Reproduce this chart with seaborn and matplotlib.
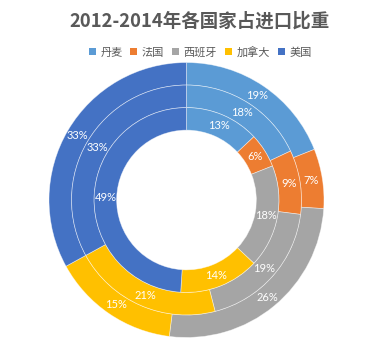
import matplotlib
matplotlib.use("Agg")
import matplotlib.pyplot as plt
import seaborn as sns

countries = ["丹麦", "法国", "西班牙", "加拿大", "美国"]
share_2012 = [13, 6, 18, 14, 49]   # inner ring
share_2013 = [18, 9, 19, 21, 33]   # middle ring
share_2014 = [19, 7, 26, 15, 33]   # outer ring
title = "2012-2014年各国家占进口比重"

sns.set_theme(style="white")
plt.rcParams['font.family'] = ['Noto Sans CJK SC', 'DejaVu Sans']

palette = sns.color_palette(["#5B9BD5", "#ED7D31", "#A5A5A5", "#FFC000", "#4472C4"])

W, H = 382, 346
fig = plt.figure(figsize=(W / 100, H / 100), dpi=100)
fig.patch.set_facecolor("white")

cx, cy, R = 186.5, 200, 137.5
ax = fig.add_axes([(cx - R) / W, (H - cy - R) / H, 2 * R / W, 2 * R / H])

width = 0.164
rings = [(share_2014, 1.0), (share_2013, 1.0 - width), (share_2012, 1.0 - 2 * width)]
legend_wedges = None
for vals, r in rings:
    wedges, texts, autotexts = ax.pie(
        vals, radius=r, colors=palette, startangle=90, counterclock=False,
        wedgeprops=dict(width=width, edgecolor=(1, 1, 1, 0.55), linewidth=0.5),
        autopct=lambda p: f"{p:.0f}%", pctdistance=(r - width / 2) / r,
        textprops=dict(color="white", fontsize=8, family=['Lato', 'DejaVu Sans']),
    )
    if legend_wedges is None:
        legend_wedges = wedges

ax.set_xlim(-1, 1)
ax.set_ylim(-1, 1)
ax.set_aspect("equal")
ax.axis("off")

fig.text(200 / W, 1 - 21 / H, title, ha="center", va="center",
         fontsize=13.3, fontweight="bold", color="#595959")

leg = fig.legend(legend_wedges, countries, loc="center", bbox_to_anchor=(200 / W, 1 - 52 / H),
                 ncol=5, frameon=False, fontsize=8, handlelength=0.65, handleheight=0.65,
                 handletextpad=0.4, columnspacing=0.7, borderpad=0)
for t in leg.get_texts():
    t.set_color("#595959")
for h in leg.legend_handles:
    h.set_edgecolor("none")

fig.savefig("out.png", dpi=100, facecolor="white")
